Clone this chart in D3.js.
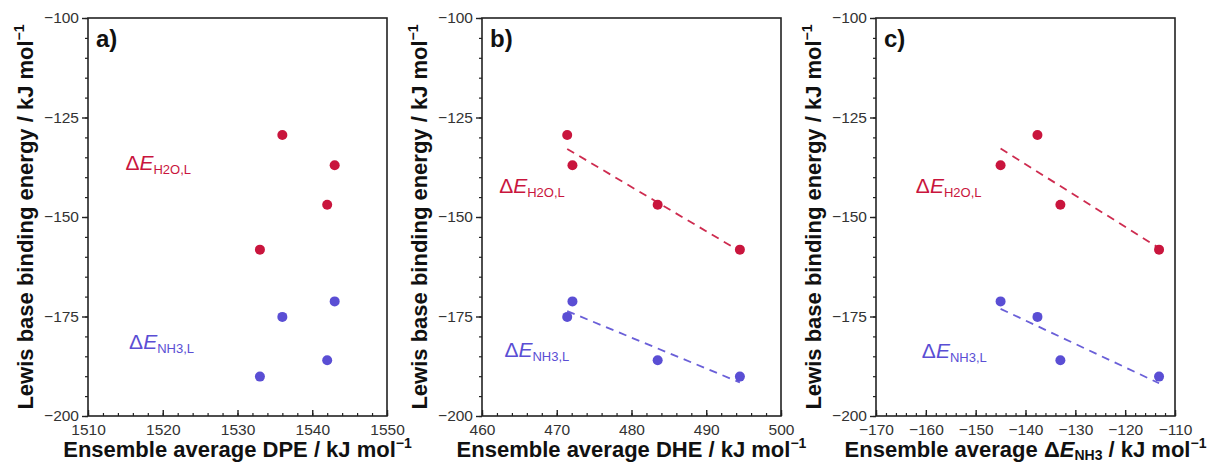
<!DOCTYPE html>
<html>
<head>
<meta charset="utf-8">
<script src="https://cdn.jsdelivr.net/npm/d3@7"></script>
<style>
  body { margin: 0; background: #fff; }
  svg { display: block; font-family: "Liberation Sans", Arial, sans-serif; }
</style>
</head>
<body>
<script>
// four catalyst systems, same order in every array
const dpe = [1533, 1536, 1542, 1543]
const dhe = [494.5, 471.4, 483.5, 472.1]
const avgNH3 = [-113.2, -137.6, -133.0, -145.0]
const eH2O = [-158.2, -129.4, -146.9, -137.0]
const eNH3 = [-190.1, -175.1, -186.0, -171.2]

const yDomain = [-200, -100]
const yTicks = [-200, -175, -150, -125, -100]

const panels = [
    {tag: 'a)', x: dpe, xDomain: [1510, 1550], xTicks: [1510, 1520, 1530, 1540, 1550], xName: 'DPE', fit: false},
    {tag: 'b)', x: dhe, xDomain: [460, 500], xTicks: [460, 470, 480, 490, 500], xName: 'DHE', fit: true},
    {tag: 'c)', x: avgNH3, xDomain: [-170, -110], xTicks: [-170, -160, -150, -140, -130, -120, -110], xName: 'dE', fit: true},
]
const series = [
    {name: 'H2O,L', y: eH2O, color: '#c9153d'},
    {name: 'NH3,L', y: eNH3, color: '#5a4ed4'},
]
// label anchor in data units for each panel [H2O, NH3]
const labelAt = [
    [[1515, -138.2], [1515.5, -183.2]],
    [[462.3, -144], [463, -185.2]],
    [[-162, -144], [-160.8, -185.4]],
]

const W = 1217, H = 463
const plotLefts = [88, 482, 876]
const plotW = 299
const plotTop = 18, plotBottom = 416
const ink = '#222'
const fmt = d3.format('d')

const svg = d3.select('body').append('svg')
    .attr('width', W)
    .attr('height', H)

svg.append('rect').attr('width', W).attr('height', H).attr('fill', '#fff')

function linFit(xs, ys) {
    const mx = d3.mean(xs), my = d3.mean(ys)
    let sxy = 0, sxx = 0
    xs.forEach((x, i) => { sxy += (x - mx) * (ys[i] - my); sxx += (x - mx) ** 2 })
    const k = sxy / sxx
    return x => my + k * (x - mx)
}

panels.forEach((p, pi) => {
    const left = plotLefts[pi]
    const x = d3.scaleLinear().domain(p.xDomain).range([left, left + plotW])
    const y = d3.scaleLinear().domain(yDomain).range([plotBottom, plotTop])
    const g = svg.append('g')

    // minor + major y ticks (outside)
    const yMinor = d3.range(yDomain[0], yDomain[1] + 0.1, 5)
    g.append('g')
        .attr('transform', `translate(${left},0)`)
        .call(d3.axisLeft(y).tickValues(yMinor).tickSize(3).tickFormat(''))
        .call(a => a.select('.domain').remove())
        .call(a => a.selectAll('line').attr('stroke', ink).attr('stroke-width', 1.2))
    g.append('g')
        .attr('transform', `translate(${left},0)`)
        .call(d3.axisLeft(y).tickValues(yTicks).tickSize(6).tickPadding(3).tickFormat(fmt))
        .call(a => a.select('.domain').remove())
        .call(a => a.selectAll('line').attr('stroke', ink).attr('stroke-width', 1.4))
        .call(a => a.selectAll('text').attr('font-size', 15.5).attr('fill', '#333')
            .attr('font-family', '"Liberation Sans", Arial, sans-serif'))

    // x ticks (inside)
    const step = 2
    const xMinor = d3.range(p.xDomain[0], p.xDomain[1] + 0.1, step)
    g.append('g')
        .attr('transform', `translate(0,${plotBottom})`)
        .call(d3.axisBottom(x).tickValues(xMinor).tickSize(-3).tickFormat(''))
        .call(a => a.select('.domain').remove())
        .call(a => a.selectAll('line').attr('stroke', ink).attr('stroke-width', 1.2))
    g.append('g')
        .attr('transform', `translate(0,${plotBottom})`)
        .call(d3.axisBottom(x).tickValues(p.xTicks).tickSize(-6).tickFormat(fmt))
        .call(a => a.select('.domain').remove())
        .call(a => a.selectAll('line').attr('stroke', ink).attr('stroke-width', 1.4))
        .call(a => a.selectAll('text').attr('font-size', 15.5).attr('fill', '#333')
            .attr('y', 8)
            .attr('font-family', '"Liberation Sans", Arial, sans-serif'))

    // frame
    g.append('rect')
        .attr('x', left).attr('y', plotTop)
        .attr('width', plotW).attr('height', plotBottom - plotTop)
        .attr('fill', 'none').attr('stroke', ink).attr('stroke-width', 1.6)

    // fits
    if (p.fit) {
        series.forEach(s => {
            const f = linFit(p.x, s.y)
            const [x0, x1] = d3.extent(p.x)
            g.append('line')
                .attr('x1', x(x0)).attr('y1', y(f(x0)))
                .attr('x2', x(x1)).attr('y2', y(f(x1)))
                .attr('stroke', s.color).attr('stroke-width', 1.8)
                .attr('stroke-dasharray', '8 6')
                .attr('opacity', 0.9)
        })
    }

    // points
    series.forEach(s => {
        g.append('g').selectAll('circle')
            .data(p.x.map((xv, i) => [xv, s.y[i]]))
            .join('circle')
            .attr('cx', d => x(d[0]))
            .attr('cy', d => y(d[1]))
            .attr('r', 5)
            .attr('fill', s.color)
    })

    // series labels
    series.forEach((s, si) => {
        const [lx, ly] = labelAt[pi][si]
        const t = g.append('text')
            .attr('x', x(lx)).attr('y', y(ly))
            .attr('fill', s.color)
            .attr('font-size', 21)
        t.append('tspan').text('Δ')
        t.append('tspan').attr('font-style', 'italic').text('E')
        t.append('tspan').attr('font-size', 13).attr('dy', 4).text(s.name)
    })

    // panel tag
    g.append('text')
        .attr('x', left + 8).attr('y', 47)
        .attr('font-size', 24).attr('font-weight', 'bold').attr('fill', '#111')
        .text(p.tag)

    // y title
    const yt = g.append('text')
        .attr('transform', `translate(${left - 55},${(plotTop + plotBottom) / 2}) rotate(-90)`)
        .attr('text-anchor', 'middle')
        .attr('font-size', 22).attr('font-weight', 'bold').attr('fill', '#111')
    yt.append('tspan').text('Lewis base binding energy / kJ mol')
    yt.append('tspan').attr('font-size', 14).attr('dy', -9).text('−1')

    // x title
    const xt = g.append('text')
        .attr('x', left + plotW / 2).attr('y', 457)
        .attr('text-anchor', 'middle')
        .attr('font-size', 22).attr('font-weight', 'bold').attr('fill', '#111')
    if (p.xName === 'dE') {
        xt.append('tspan').text('Ensemble average Δ')
        xt.append('tspan').attr('font-style', 'italic').text('E')
        xt.append('tspan').attr('font-size', 14).attr('dy', 3).text('NH3')
        xt.append('tspan').attr('dy', -3).text(' / kJ mol')
    } else {
        xt.append('tspan').text(`Ensemble average ${p.xName} / kJ mol`)
    }
    xt.append('tspan').attr('font-size', 14).attr('dy', -9).text('−1')
})
</script>
</body>
</html>
